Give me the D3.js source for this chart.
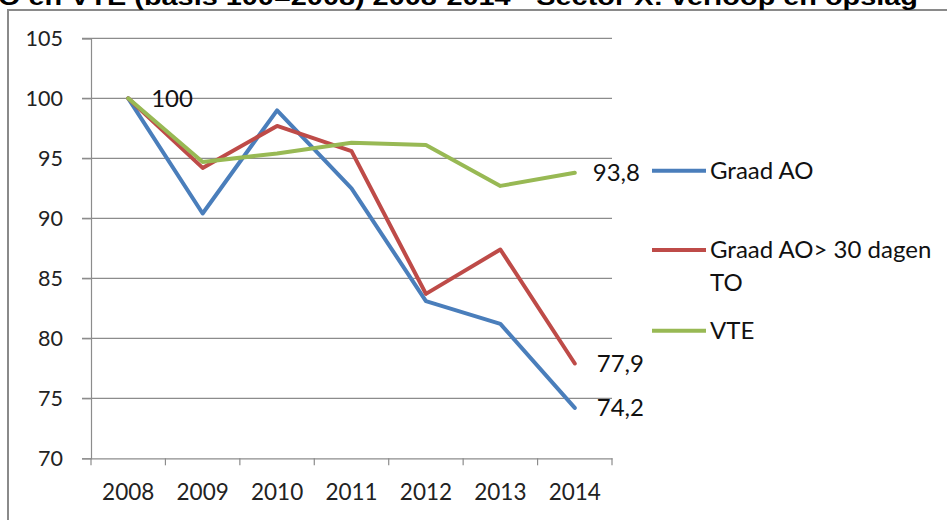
<!DOCTYPE html>
<html><head><meta charset="utf-8">
<script src="https://cdn.jsdelivr.net/npm/d3@7"></script>
<style>html,body{margin:0;padding:0;background:#fff;overflow:hidden}</style>
</head><body>
<svg id="c" width="947" height="520"></svg>
<script>
const years = ["2008","2009","2010","2011","2012","2013","2014"];
const graadAO = [100, 90.4, 99.0, 92.5, 83.1, 81.2, 74.2];
const graadAO30 = [100, 94.2, 97.7, 95.6, 83.7, 87.4, 77.9];
const vte = [100, 94.7, 95.4, 96.3, 96.1, 92.7, 93.8];
const seriesNames = ["Graad AO", "Graad AO> 30 dagen TO", "VTE"];
const seriesColors = ["#4A7EBB", "#BE4B48", "#98B954"];
const yTicks = [70, 75, 80, 85, 90, 95, 100, 105];
const title = "O en VTE (basis 100=2008) 2008-2014 - Sector X: verloop en opslag";

const svg = d3.select("#c");
const FONT = "Lato, 'Open Sans', sans-serif";
const pLeft = 91, pRight = 612, pTop = 38.3, pBottom = 458.3;

// frame
svg.append("path").attr("d", "M8,530 L8,10 L960,10").attr("fill","none")
  .attr("stroke","#8a8a8a").attr("stroke-width",2);
// cut title
svg.append("text").attr("x",-2).attr("y",4.5).attr("textLength",920).attr("lengthAdjust","spacingAndGlyphs")
  .attr("font-family","'Liberation Sans', Arial, sans-serif").attr("font-weight","bold")
  .attr("font-size",24).attr("fill","#000").text(title);

const x = d3.scaleBand().domain(years).range([pLeft, pRight]);
const y = d3.scaleLinear().domain([70, 105]).range([pBottom, pTop]);

// gridlines
svg.append("g").selectAll("line").data(yTicks.filter(d=>d>70)).join("line")
  .attr("x1", pLeft-9).attr("x2", pRight).attr("y1", d=>y(d)).attr("y2", d=>y(d))
  .attr("stroke","#8c8c8c").attr("stroke-width",1.2);

// y axis
const ya = svg.append("g").attr("transform",`translate(${pLeft},0)`)
  .call(d3.axisLeft(y).tickValues(yTicks).tickSize(9).tickPadding(19));
ya.select(".domain").attr("stroke","#8c8c8c").attr("stroke-width",1.2);
ya.selectAll(".tick line").attr("stroke","#8c8c8c").attr("stroke-width",1.2);
ya.selectAll("text").attr("font-family",FONT).attr("font-size",21.5).attr("fill","#222");

// x axis
const xa = svg.append("g").attr("transform",`translate(0,${pBottom})`)
  .call(d3.axisBottom(x).tickSize(0).tickPadding(26));
xa.select(".domain").attr("stroke","#8c8c8c").attr("stroke-width",1.2);
xa.selectAll("text").attr("font-family",FONT).attr("font-size",22.5).attr("fill","#222");
// x tick marks at band boundaries
const bounds = years.map(d=>x(d)).concat([x(years[years.length-1])+x.bandwidth()]);
svg.append("g").selectAll("line").data(bounds).join("line")
  .attr("x1",d=>d).attr("x2",d=>d).attr("y1",pBottom).attr("y2",pBottom+7)
  .attr("stroke","#8c8c8c").attr("stroke-width",1.2);

const line = d3.line().x((d,i)=>x(years[i])+x.bandwidth()/2).y(d=>y(d));
const all = [graadAO, graadAO30, vte];
all.forEach((s,k)=>{
  svg.append("path").datum(s).attr("d", line).attr("fill","none")
    .attr("stroke", seriesColors[k]).attr("stroke-width",4).attr("stroke-linejoin","round").attr("stroke-linecap","round");
});

// data labels
const fmt = v => String(v).replace(".", ",");
const lbl = [
  {v: vte[0], i: 0, dx: 23},
  {v: vte[6], i: 6, dx: 18},
  {v: graadAO30[6], i: 6, dx: 22},
  {v: graadAO[6], i: 6, dx: 22}
];
svg.append("g").selectAll("text").data(lbl).join("text")
  .attr("x", d=>x(years[d.i])+x.bandwidth()/2+d.dx).attr("y", d=>y(d.v)).attr("dy","0.35em")
  .attr("font-family",FONT).attr("font-size",24).attr("fill","#111").text(d=>fmt(d.v));

// legend
const legY = [170.7, 250, 330.7];
const lg = svg.append("g");
seriesNames.forEach((n,k)=>{
  lg.append("line").attr("x1",652).attr("x2",706).attr("y1",legY[k]).attr("y2",legY[k])
    .attr("stroke",seriesColors[k]).attr("stroke-width",4);
  const words = n === "Graad AO> 30 dagen TO" ? ["Graad AO> 30 dagen","TO"] : [n];
  words.forEach((w,j)=>{
    lg.append("text").attr("x",710).attr("y",legY[k]+j*33).attr("dy","0.35em")
      .attr("font-family",FONT).attr("font-size",24).attr("fill","#111").text(w);
  });
});
</script>
</body></html>
